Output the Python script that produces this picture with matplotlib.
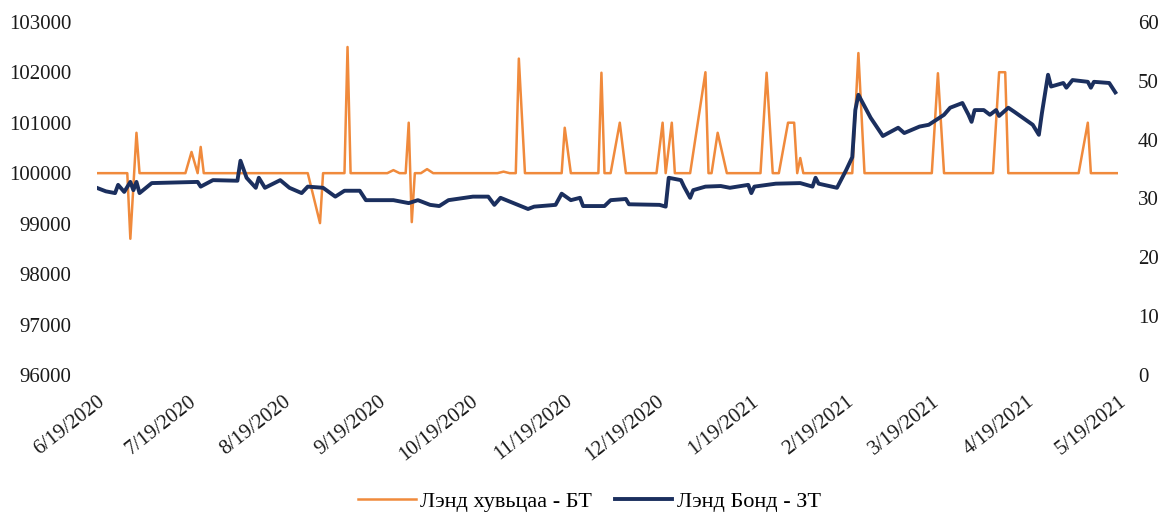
import matplotlib
matplotlib.use("Agg")
import matplotlib.pyplot as plt
import matplotlib.dates as mdates
import pandas as pd

start = pd.Timestamp("2020-06-19")

# Лэнд хувьцаа - БТ (left axis), day offset from 6/19/2020
stock_days = [0, 10, 11, 13, 14, 29, 31, 33, 34, 35, 69, 73, 74, 81, 82, 83, 95, 97, 99,
              101, 102, 103, 104, 106, 108, 110, 131, 133, 135, 137, 138, 140, 152, 153, 155,
              164, 165, 166, 168, 171, 173, 183, 185, 186, 188, 189, 194, 199, 200, 201, 203,
              206, 217, 219, 221, 223, 226, 228, 229, 230, 231, 247, 249, 251, 273, 275, 277,
              293, 295, 297, 298, 321, 324, 325, 334]
stock_vals = [100000, 100000, 98700, 100800, 100000, 100000, 100420, 100000, 100520, 100000,
              100000, 99010, 100000, 100000, 102500, 100000, 100000, 100060, 100000,
              100000, 101000, 99030, 100000, 100000, 100080, 100000, 100000, 100030, 100000,
              100000, 102270, 100000, 100000, 100900, 100000,
              100000, 101990, 100000, 100000, 101000, 100000, 100000, 101000, 100000, 101000,
              100000, 100000, 102000, 100000, 100000, 100800,
              100000, 100000, 101990, 100000, 100000, 101000, 101000, 100000, 100300, 100000,
              100000, 102380, 100000, 100000, 101980, 100000,
              100000, 102000, 102000, 100000, 100000, 101000, 100000, 100000]

# Лэнд Бонд - ЗТ (right axis)
bond_days = [0, 3, 6, 7, 9, 11, 12, 13, 14, 18, 33, 34, 38, 46, 47, 49, 52, 53, 55, 60, 63,
             67, 69, 74, 78, 81, 86, 88, 97, 102, 105, 109, 112, 115, 123, 128, 130, 132,
             141, 143, 150, 152, 155, 158, 159, 166, 168, 173, 174, 184, 186, 187, 191, 192,
             194, 195, 199, 204, 207, 213, 214, 215, 222, 230, 234, 235, 236, 242, 245, 247,
             248, 249, 253, 257, 262, 264, 269, 272, 277, 279, 283, 285, 286, 287, 290, 292,
             294, 295, 298, 300, 306, 308, 309, 311, 312, 316, 317, 319, 324, 325, 326, 331, 333]
bond_vals = [31.8, 31.2, 30.9, 32.3, 31.1, 32.8, 31.4, 32.8, 30.9, 32.6, 32.8, 32.0, 33.1,
             33.0, 36.4, 33.5, 31.8, 33.5, 31.8, 33.1, 31.8, 30.9, 32.0, 31.8, 30.3, 31.3,
             31.3, 29.7, 29.7, 29.2, 29.7, 28.9, 28.7, 29.7, 30.3, 30.3, 28.9, 30.1, 28.2,
             28.6, 28.9, 30.8, 29.7, 30.1, 28.7, 28.7, 29.7, 29.9, 29.0, 28.9, 28.6, 33.5,
             33.1, 32.0, 30.1, 31.4, 32.0, 32.1, 31.8, 32.3, 30.9, 32.0, 32.5, 32.6, 32.0,
             33.5, 32.5, 31.8, 34.8, 37.0, 45.0, 47.6, 43.7, 40.6, 42.0, 41.1, 42.2, 42.5,
             44.2, 45.4, 46.2, 44.2, 43.0, 45.0, 45.0, 44.2, 45.0, 44.0, 45.4, 44.7, 42.5,
             40.8, 44.5, 51.0, 49.0, 49.6, 48.8, 50.1, 49.8, 48.8, 49.8, 49.6, 48.0]

stock_dates = start + pd.to_timedelta(stock_days, unit="D")
bond_dates = start + pd.to_timedelta(bond_days, unit="D")

plt.rcParams["font.family"] = ["Liberation Serif", "DejaVu Serif"]

fig = plt.figure(figsize=(11.65, 5.18), dpi=100)
ax = fig.add_axes([0.083, 0.276, 0.877, 0.682])
ax2 = ax.twinx()

l1, = ax.plot(stock_dates, stock_vals, color="#F08A3C", lw=1.8, label="Лэнд хувьцаа - БТ")
l2, = ax2.plot(bond_dates, bond_vals, color="#1B2F5E", lw=2.8, label="Лэнд Бонд - ЗТ")

ax.set_ylim(96000, 103000)
ax.set_yticks(range(96000, 103001, 1000))
ax2.set_ylim(0, 60)
ax2.set_yticks(range(0, 61, 10))
ax.set_xlim(start, pd.Timestamp("2021-05-19"))

ax.xaxis.set_major_locator(mdates.DayLocator(bymonthday=19))
ax.xaxis.set_major_formatter(plt.FuncFormatter(
    lambda v, p: (lambda d: f"{d.month}/{d.day}/{d.year}")(mdates.num2date(v))))

for a in (ax, ax2):
    for s in a.spines.values():
        s.set_visible(False)
    a.tick_params(length=0, labelsize=15, colors="#1a1a1a")
ax.tick_params(axis="y", pad=18)
ax2.tick_params(axis="y", pad=14)
ax.tick_params(axis="x", pad=12)
for lbl in ax.get_xticklabels():
    lbl.set_rotation(38)
    lbl.set_ha("right")
    lbl.set_rotation_mode("anchor")

fig.legend(handles=[l1, l2], loc="center", bbox_to_anchor=(0.506, 0.031), ncol=2,
           frameon=False, fontsize=16, handlelength=2.6, handletextpad=0.2, columnspacing=1.0)

fig.savefig("out.png", dpi=100)
